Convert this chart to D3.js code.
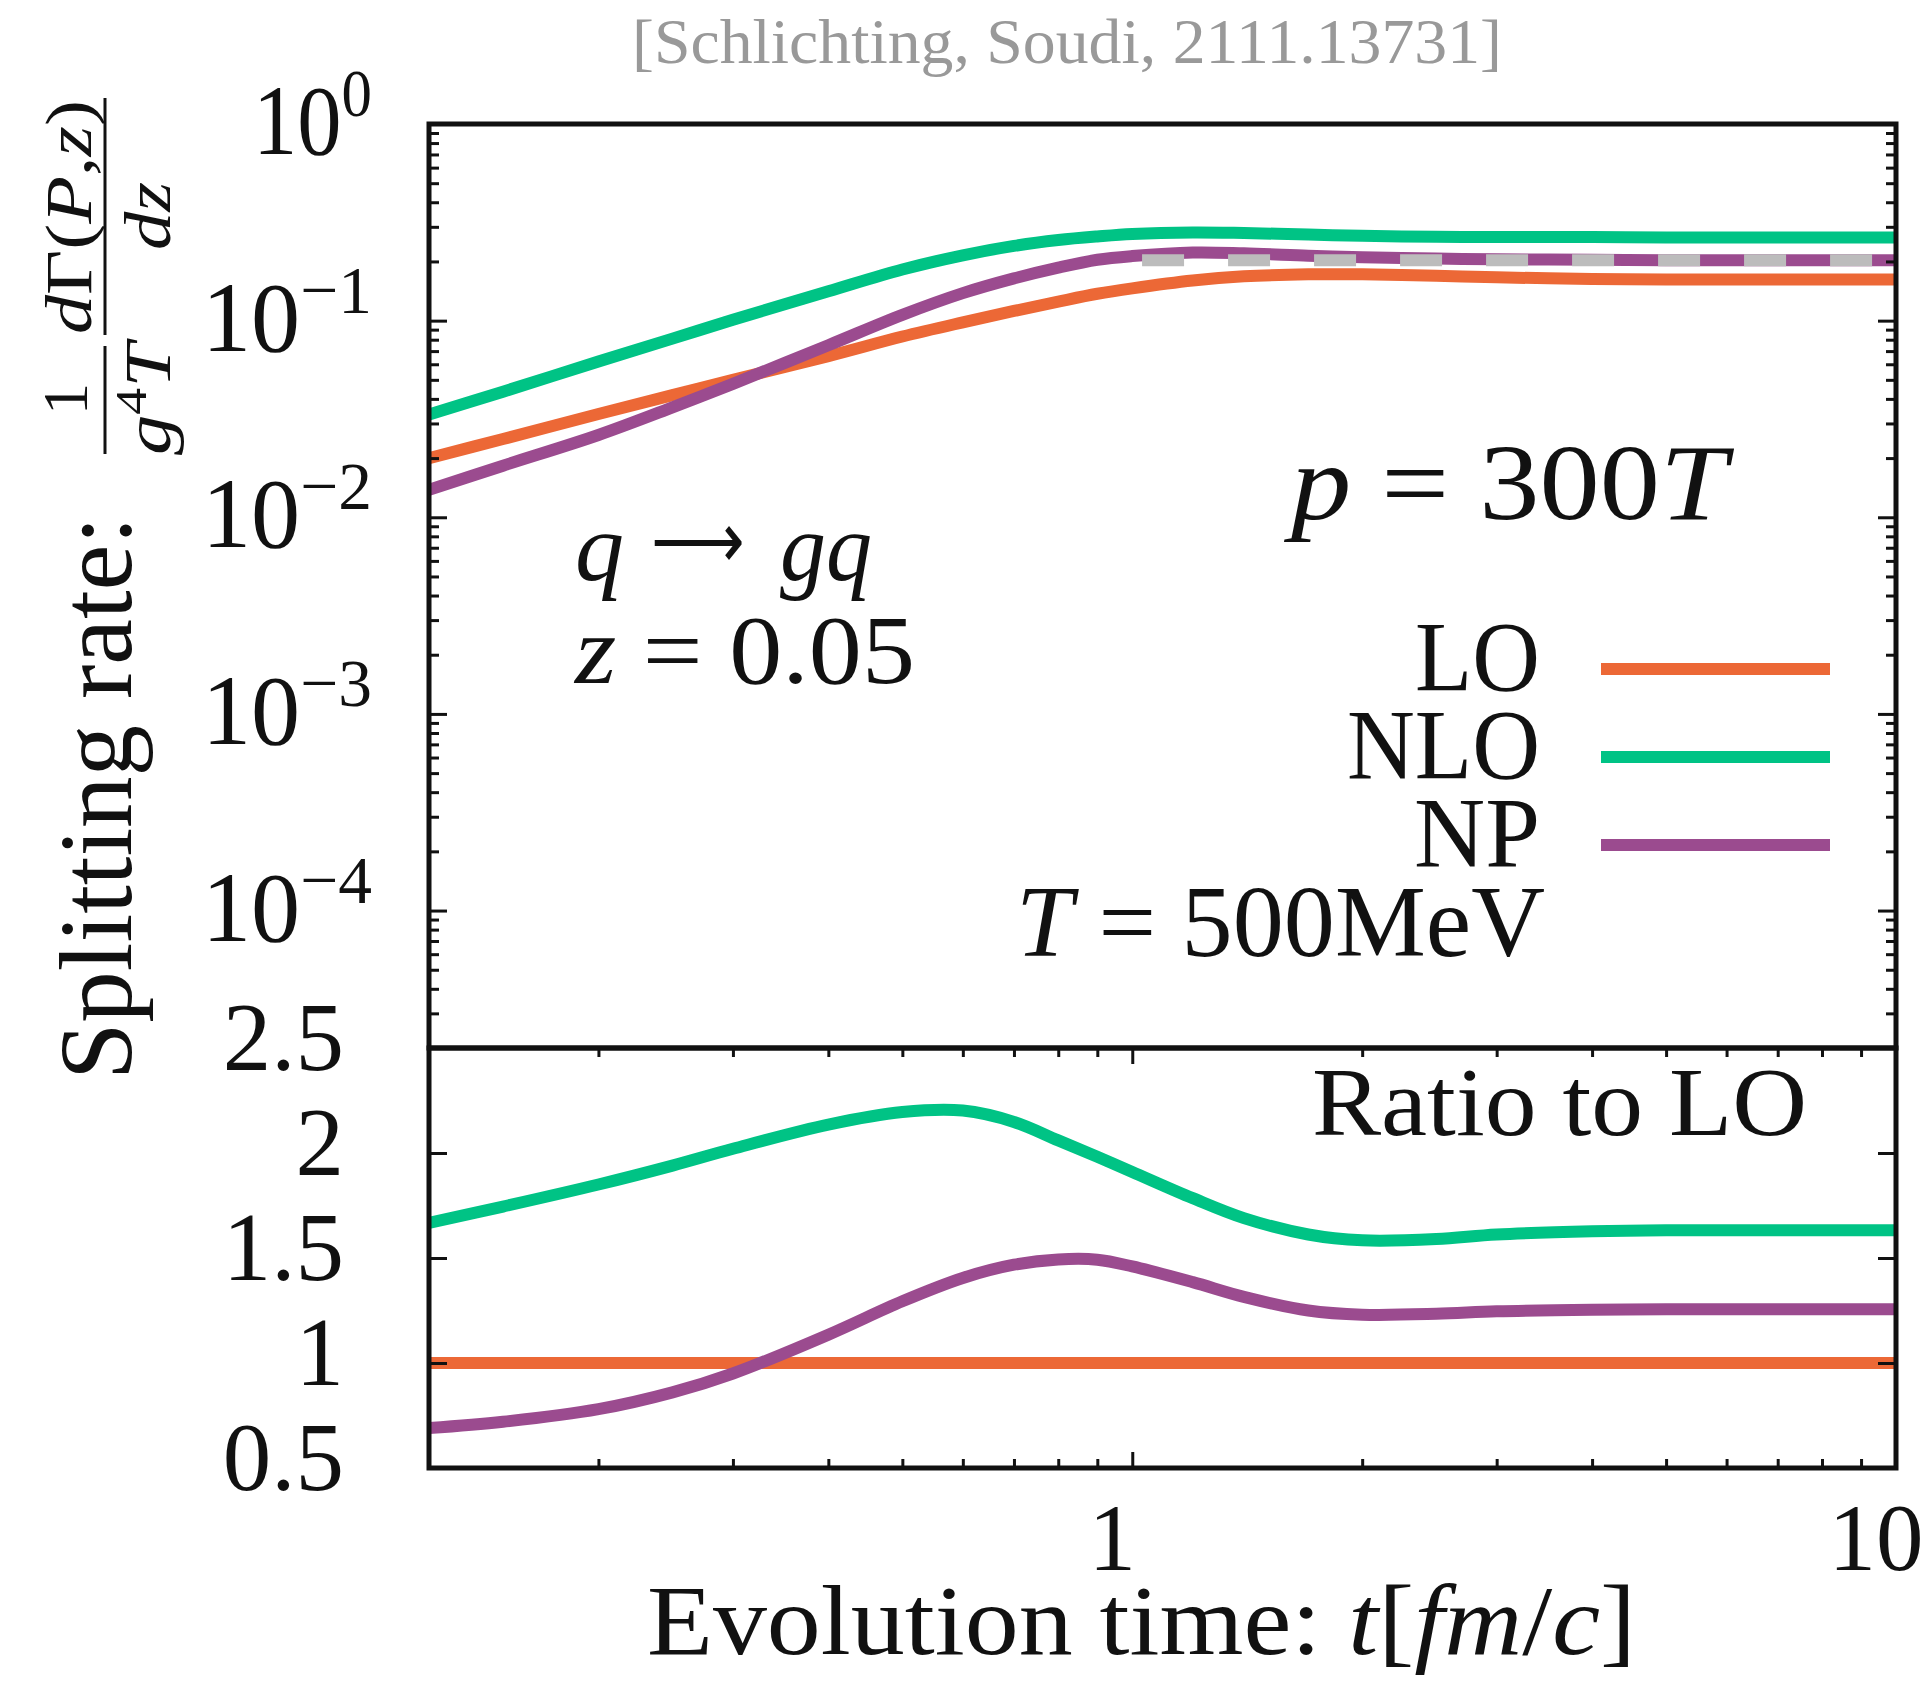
<!DOCTYPE html>
<html>
<head>
<meta charset="utf-8">
<script src="https://cdn.jsdelivr.net/npm/d3@7"></script>
<style>
  body { margin: 0; background: #fff; }
  svg text { font-family: "Liberation Serif", "Times New Roman", serif; fill: #111; white-space: pre; }
</style>
</head>
<body>
<div id="chart"></div>
<script>
// evolution time t [fm/c]
const times = [0.12, 0.15, 0.2, 0.25, 0.3, 0.4, 0.5, 0.6, 0.7, 0.8, 0.9, 1.0, 1.2, 1.4, 1.7, 2.0, 2.5, 3, 4, 5, 7, 10];

// splitting rate, top panel
const rateLO  = [0.020, 0.025, 0.0335, 0.0418, 0.050, 0.066, 0.083, 0.098, 0.112, 0.125, 0.137, 0.146, 0.160, 0.168, 0.172, 0.172, 0.169, 0.166, 0.163, 0.162, 0.162, 0.162];
const rateNLO = [0.0333, 0.0435, 0.062, 0.081, 0.101, 0.141, 0.182, 0.215, 0.240, 0.257, 0.268, 0.276, 0.281, 0.279, 0.274, 0.270, 0.267, 0.266, 0.266, 0.265, 0.265, 0.265];
const rateNP  = [0.0138, 0.0183, 0.0262, 0.0362, 0.0477, 0.075, 0.107, 0.138, 0.164, 0.186, 0.204, 0.213, 0.222, 0.220, 0.214, 0.210, 0.207, 0.205, 0.204, 0.203, 0.203, 0.203];

// grey dashed asymptote
const asymTimes = [1.03, 10];
const asymRate = [0.203, 0.203];

// ratio to LO, bottom panel
const ratioLO  = [1, 1, 1, 1, 1, 1, 1, 1, 1, 1, 1, 1, 1, 1, 1, 1, 1, 1, 1, 1, 1, 1];
const ratioNLO = [1.667, 1.745, 1.85, 1.94, 2.02, 2.135, 2.195, 2.202, 2.148, 2.06, 1.982, 1.91, 1.785, 1.69, 1.612, 1.584, 1.59, 1.612, 1.627, 1.632, 1.632, 1.632];
const ratioNP  = [0.69, 0.72, 0.78, 0.86, 0.95, 1.135, 1.294, 1.405, 1.468, 1.493, 1.492, 1.46, 1.385, 1.315, 1.25, 1.23, 1.234, 1.246, 1.254, 1.256, 1.256, 1.256];

const seriesNames = ['LO', 'NLO', 'NP'];
const seriesColors = ['#ec6836', '#00c385', '#9b4b8f'];

// tick labels
const topTickExp = [0, -1, -2, -3, -4];
const ratioTicks = [0.5, 1, 1.5, 2, 2.5];
const xTickLabels = [1, 10];
const xMinorTicks = [0.2, 0.3, 0.4, 0.5, 0.6, 0.7, 0.8, 0.9, 2, 3, 4, 5, 6, 7, 8, 9];

const width = 1931, height = 1681;
const plotL = 429, plotR = 1896, plotT = 124, plotMid = 1048, plotB = 1468;
const curveW = 12;

const svg = d3.select('#chart').append('svg').attr('width', width).attr('height', height);

const x = d3.scaleLog().domain([0.12, 10]).range([plotL, plotR]);
const yTop = d3.scaleLog().domain([2e-5, 1]).range([plotMid, plotT]);
const yBot = d3.scaleLinear().domain([0.5, 2.5]).range([plotB, plotMid]);

svg.append('clipPath').attr('id', 'clipTop').append('rect')
  .attr('x', plotL).attr('y', plotT).attr('width', plotR - plotL).attr('height', plotMid - plotT);
svg.append('clipPath').attr('id', 'clipBot').append('rect')
  .attr('x', plotL).attr('y', plotMid).attr('width', plotR - plotL).attr('height', plotB - plotMid);

// curves
const smooth = d3.curveCatmullRom.alpha(0.5);
const lineTop = d3.line().x(d => x(d[0])).y(d => yTop(d[1])).curve(smooth);
const lineBot = d3.line().x(d => x(d[0])).y(d => yBot(d[1])).curve(smooth);

const gTop = svg.append('g').attr('clip-path', 'url(#clipTop)');
const gBot = svg.append('g').attr('clip-path', 'url(#clipBot)');

[rateLO, rateNLO, rateNP].forEach(function(vals, i) {
  gTop.append('path')
    .attr('d', lineTop(times.map((t, j) => [t, vals[j]])))
    .attr('fill', 'none').attr('stroke', seriesColors[i]).attr('stroke-width', curveW);
});
gTop.append('path')
  .attr('d', lineTop(asymTimes.map((t, j) => [t, asymRate[j]])))
  .attr('fill', 'none').attr('stroke', '#bcbcbc').attr('stroke-width', curveW)
  .attr('stroke-dasharray', '42,44');

[ratioLO, ratioNLO, ratioNP].forEach(function(vals, i) {
  gBot.append('path')
    .attr('d', lineBot(times.map((t, j) => [t, vals[j]])))
    .attr('fill', 'none').attr('stroke', seriesColors[i]).attr('stroke-width', curveW);
});

// ticks
function drawTicks(gx, axis, values, size) {
  gx.call(axis.tickValues(values).tickSize(size).tickFormat(''));
  gx.select('.domain').remove();
  gx.selectAll('.tick line').attr('stroke', '#111').attr('stroke-width', 3);
}

const topMajor = topTickExp.map(k => Math.pow(10, k));
const topMinor = [];
d3.range(-5, 0).forEach(function(k) {
  d3.range(2, 10).forEach(function(m) {
    const v = m * Math.pow(10, k);
    if (v > 2e-5 && v < 1) topMinor.push(v);
  });
});

drawTicks(svg.append('g').attr('transform', `translate(${plotL},0)`), d3.axisRight(yTop), topMajor, 18);
drawTicks(svg.append('g').attr('transform', `translate(${plotL},0)`), d3.axisRight(yTop), topMinor, 10);
drawTicks(svg.append('g').attr('transform', `translate(${plotR},0)`), d3.axisLeft(yTop), topMajor, 18);
drawTicks(svg.append('g').attr('transform', `translate(${plotR},0)`), d3.axisLeft(yTop), topMinor, 10);

drawTicks(svg.append('g').attr('transform', `translate(${plotL},0)`), d3.axisRight(yBot), ratioTicks, 18);
drawTicks(svg.append('g').attr('transform', `translate(${plotR},0)`), d3.axisLeft(yBot), ratioTicks, 18);

drawTicks(svg.append('g').attr('transform', `translate(0,${plotB})`), d3.axisTop(x), xTickLabels, 16);
drawTicks(svg.append('g').attr('transform', `translate(0,${plotB})`), d3.axisTop(x), xMinorTicks, 9);
drawTicks(svg.append('g').attr('transform', `translate(0,${plotMid})`), d3.axisBottom(x), xTickLabels, 16);
drawTicks(svg.append('g').attr('transform', `translate(0,${plotMid})`), d3.axisBottom(x), xMinorTicks, 9);

// frames
svg.append('rect').attr('x', plotL).attr('y', plotT).attr('width', plotR - plotL).attr('height', plotMid - plotT)
  .attr('fill', 'none').attr('stroke', '#111').attr('stroke-width', 5);
svg.append('rect').attr('x', plotL).attr('y', plotMid).attr('width', plotR - plotL).attr('height', plotB - plotMid)
  .attr('fill', 'none').attr('stroke', '#111').attr('stroke-width', 5);

// text with math parts: [string, style, dy, size]
function mathText(parent, px, py, parts, size, len, anchor) {
  const t = parent.append('text').attr('x', px).attr('y', py)
    .attr('font-size', size).attr('text-anchor', anchor || 'start');
  parts.forEach(function(p) {
    const s = t.append('tspan').text(p[0]);
    if (p[1] === 'i') s.attr('font-style', 'italic');
    if (p[2]) s.attr('dy', p[2]);
    if (p[3]) s.attr('font-size', p[3]);
  });
  if (len) t.attr('textLength', len).attr('lengthAdjust', 'spacingAndGlyphs');
  return t;
}

// tick labels
topTickExp.forEach(function(k) {
  const exp = k === 0 ? '0' : '\u2212' + (-k);
  mathText(svg, 372, yTop(Math.pow(10, k)) + 30, [['10'], [exp, '', -38, 68]], 99, k === 0 ? 119 : 170, 'end');
});
ratioTicks.forEach(function(v) {
  mathText(svg, 344, yBot(v) + 22, [[String(v)]], 97, null, 'end');
});
xTickLabels.forEach(function(v) {
  mathText(svg, x(v) - 20, 1570, [[String(v)]], 95, null, 'middle');
});

// title
svg.append('text').attr('x', 1067).attr('y', 63).attr('text-anchor', 'middle')
  .attr('font-size', 64).style('fill', '#999')
  .attr('textLength', 870).attr('lengthAdjust', 'spacingAndGlyphs')
  .text('[Schlichting, Soudi, 2111.13731]');

// x axis title
mathText(svg, 647, 1654, [['Evolution time: '], ['t', 'i'], ['['], ['fm', 'i'], ['/'], ['c', 'i'], [']']], 100, 989);

// y axis title
const gy = svg.append('g').attr('transform', 'translate(131,1080) rotate(-90)');
mathText(gy, 0, 0, [['Splitting rate:']], 104, 564);
gy.append('line').attr('x1', 626).attr('x2', 734).attr('y1', -26).attr('y2', -26).attr('stroke', '#111').attr('stroke-width', 3);
mathText(gy, 681, -44, [['1']], 64, null, 'middle');
mathText(gy, 681, 39, [['g', 'i'], ['4', '', -24, 44], ['T', 'i', 24]], 66, 112, 'middle');
gy.append('line').attr('x1', 745).attr('x2', 982).attr('y1', -26).attr('y2', -26).attr('stroke', '#111').attr('stroke-width', 3);
mathText(gy, 863, -40, [['d', 'i'], ['\u0393('], ['P', 'i'], [','], ['z', 'i'], [')']], 66, 234, 'middle');
mathText(gy, 864, 39, [['dz', 'i']], 66, 68, 'middle');

// annotations
mathText(svg, 575, 580, [['q', 'i']], 98);
mathText(svg, 651, 568, [['\u27F6']], 80, 94);
mathText(svg, 780, 580, [['gq', 'i']], 98, 92);
mathText(svg, 575, 683, [['z', 'i'], [' = 0.05']], 98, 340);
mathText(svg, 1291, 519, [['p', 'i'], [' = 300'], ['T', 'i']], 108, 436);
mathText(svg, 1016, 956, [['T', 'i'], [' = 500MeV']], 102, 529);
mathText(svg, 1312, 1135, [['Ratio to LO']], 98, 495);

// legend
const legendLens = [125, 193, 126];
seriesNames.forEach(function(name, i) {
  const by = 690 + i * 88;
  mathText(svg, 1540, by, [[name]], 100, legendLens[i], 'end');
  svg.append('line').attr('x1', 1601).attr('x2', 1830).attr('y1', by - 21).attr('y2', by - 21)
    .attr('stroke', seriesColors[i]).attr('stroke-width', curveW);
});
</script>
</body>
</html>
